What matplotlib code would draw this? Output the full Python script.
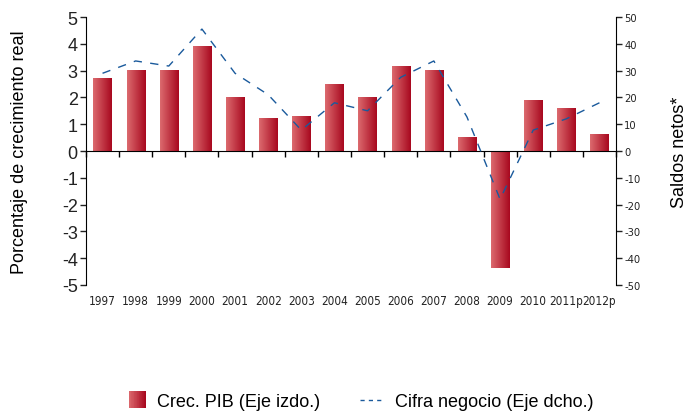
import numpy as np
import matplotlib
matplotlib.use("Agg")
import matplotlib.pyplot as plt
from matplotlib.colors import LinearSegmentedColormap
from matplotlib.legend_handler import HandlerBase
from matplotlib.patches import Rectangle, Patch
from matplotlib.lines import Line2D

plt.rcParams['font.family'] = ['Liberation Sans', 'DejaVu Sans']
plt.rcParams['axes.unicode_minus'] = False

years = ["1997", "1998", "1999", "2000", "2001", "2002", "2003", "2004",
         "2005", "2006", "2007", "2008", "2009", "2010", "2011p", "2012p"]
pib = [2.7, 3.0, 3.0, 3.9, 2.0, 1.2, 1.3, 2.5, 2.0, 3.15, 3.0, 0.52, -4.35, 1.87, 1.6, 0.63]
cifra = [29, 33.6, 31.7, 45.5, 29, 21, 7.8, 18, 15, 27.5, 33.6, 12.7, -18, 7.8, 12, 18]

cmap = LinearSegmentedColormap.from_list("rojo", ["#dc6a6e", "#a8081f"])
grad = np.linspace(0, 1, 64).reshape(1, -1)
narrow = dict(family="DejaVu Sans", stretch="condensed")

fig = plt.figure(figsize=(6.9, 4.14), dpi=100)
ax = fig.add_axes([0.1246, 0.3092, 0.7682, 0.6473])
x = np.arange(len(years))
bars = ax.bar(x, pib, width=0.55, color="none", zorder=2)
for b in bars:
    x0, y0 = b.get_x(), b.get_y()
    w, h = b.get_width(), b.get_height()
    ax.imshow(grad, cmap=cmap, aspect="auto", zorder=2,
              extent=[x0, x0 + w, min(y0, y0 + h), max(y0, y0 + h)])

ax.set_xlim(-0.5, len(years) - 0.5)
ax.set_ylim(-5, 5)
ax.set_yticks(range(-5, 6))
ax.tick_params(axis="y", labelsize=13, length=4, width=1, pad=2, colors="#222222")
ax.set_ylabel("Porcentaje de crecimiento real", fontsize=13, labelpad=24)
for s in ["top", "right"]:
    ax.spines[s].set_visible(False)
ax.spines["bottom"].set_position(("data", 0))
ax.set_xticks(np.arange(len(years) + 1) - 0.5)
ax.set_xticklabels([])
ax.tick_params(axis="x", length=4, width=1, direction="out")
for xi, lab in zip(x, years):
    ax.text(xi, -0.035, lab, transform=ax.get_xaxis_transform(), ha="center", va="top",
            fontsize=8.5, color="#222222", **narrow)

ax2 = ax.twinx()
ax2.plot(x, cifra, color="#1a5a9c", lw=1, dashes=(6, 6), zorder=3)
ax2.set_ylim(-50, 50)
ax2.set_yticks(range(-50, 51, 10))
ax2.tick_params(axis="y", labelsize=8, length=4, width=1, pad=2, colors="#222222")
for t in ax2.get_yticklabels():
    t.set_family("DejaVu Sans")
    t.set_stretch("condensed")
for s in ["top", "left", "bottom"]:
    ax2.spines[s].set_visible(False)
ax2.set_ylabel("Saldos netos*", fontsize=13, labelpad=22)


class GradHandler(HandlerBase):
    def create_artists(self, legend, orig, xd, yd, w, h, fs, trans):
        s = 12.5
        n = 24
        x0 = xd + w - s
        return [Rectangle((x0 + i * s / n, yd + h / 2 - s / 2), s / n * 1.1, s,
                          color=cmap(i / (n - 1)), lw=0, transform=trans)
                for i in range(n)]


h1 = Patch(label="Crec. PIB (Eje izdo.)")
h2 = Line2D([], [], color="#1a5a9c", lw=1, dashes=(3, 3), label="Cifra negocio (Eje dcho.)")
fig.legend(handles=[h1, h2], handler_map={Patch: GradHandler()}, loc="center",
           bbox_to_anchor=(0.518, 0.028), ncol=2, frameon=False, fontsize=13,
           columnspacing=2.2, handlelength=1.35, handletextpad=0.6)

fig.savefig("out.png", dpi=100)
